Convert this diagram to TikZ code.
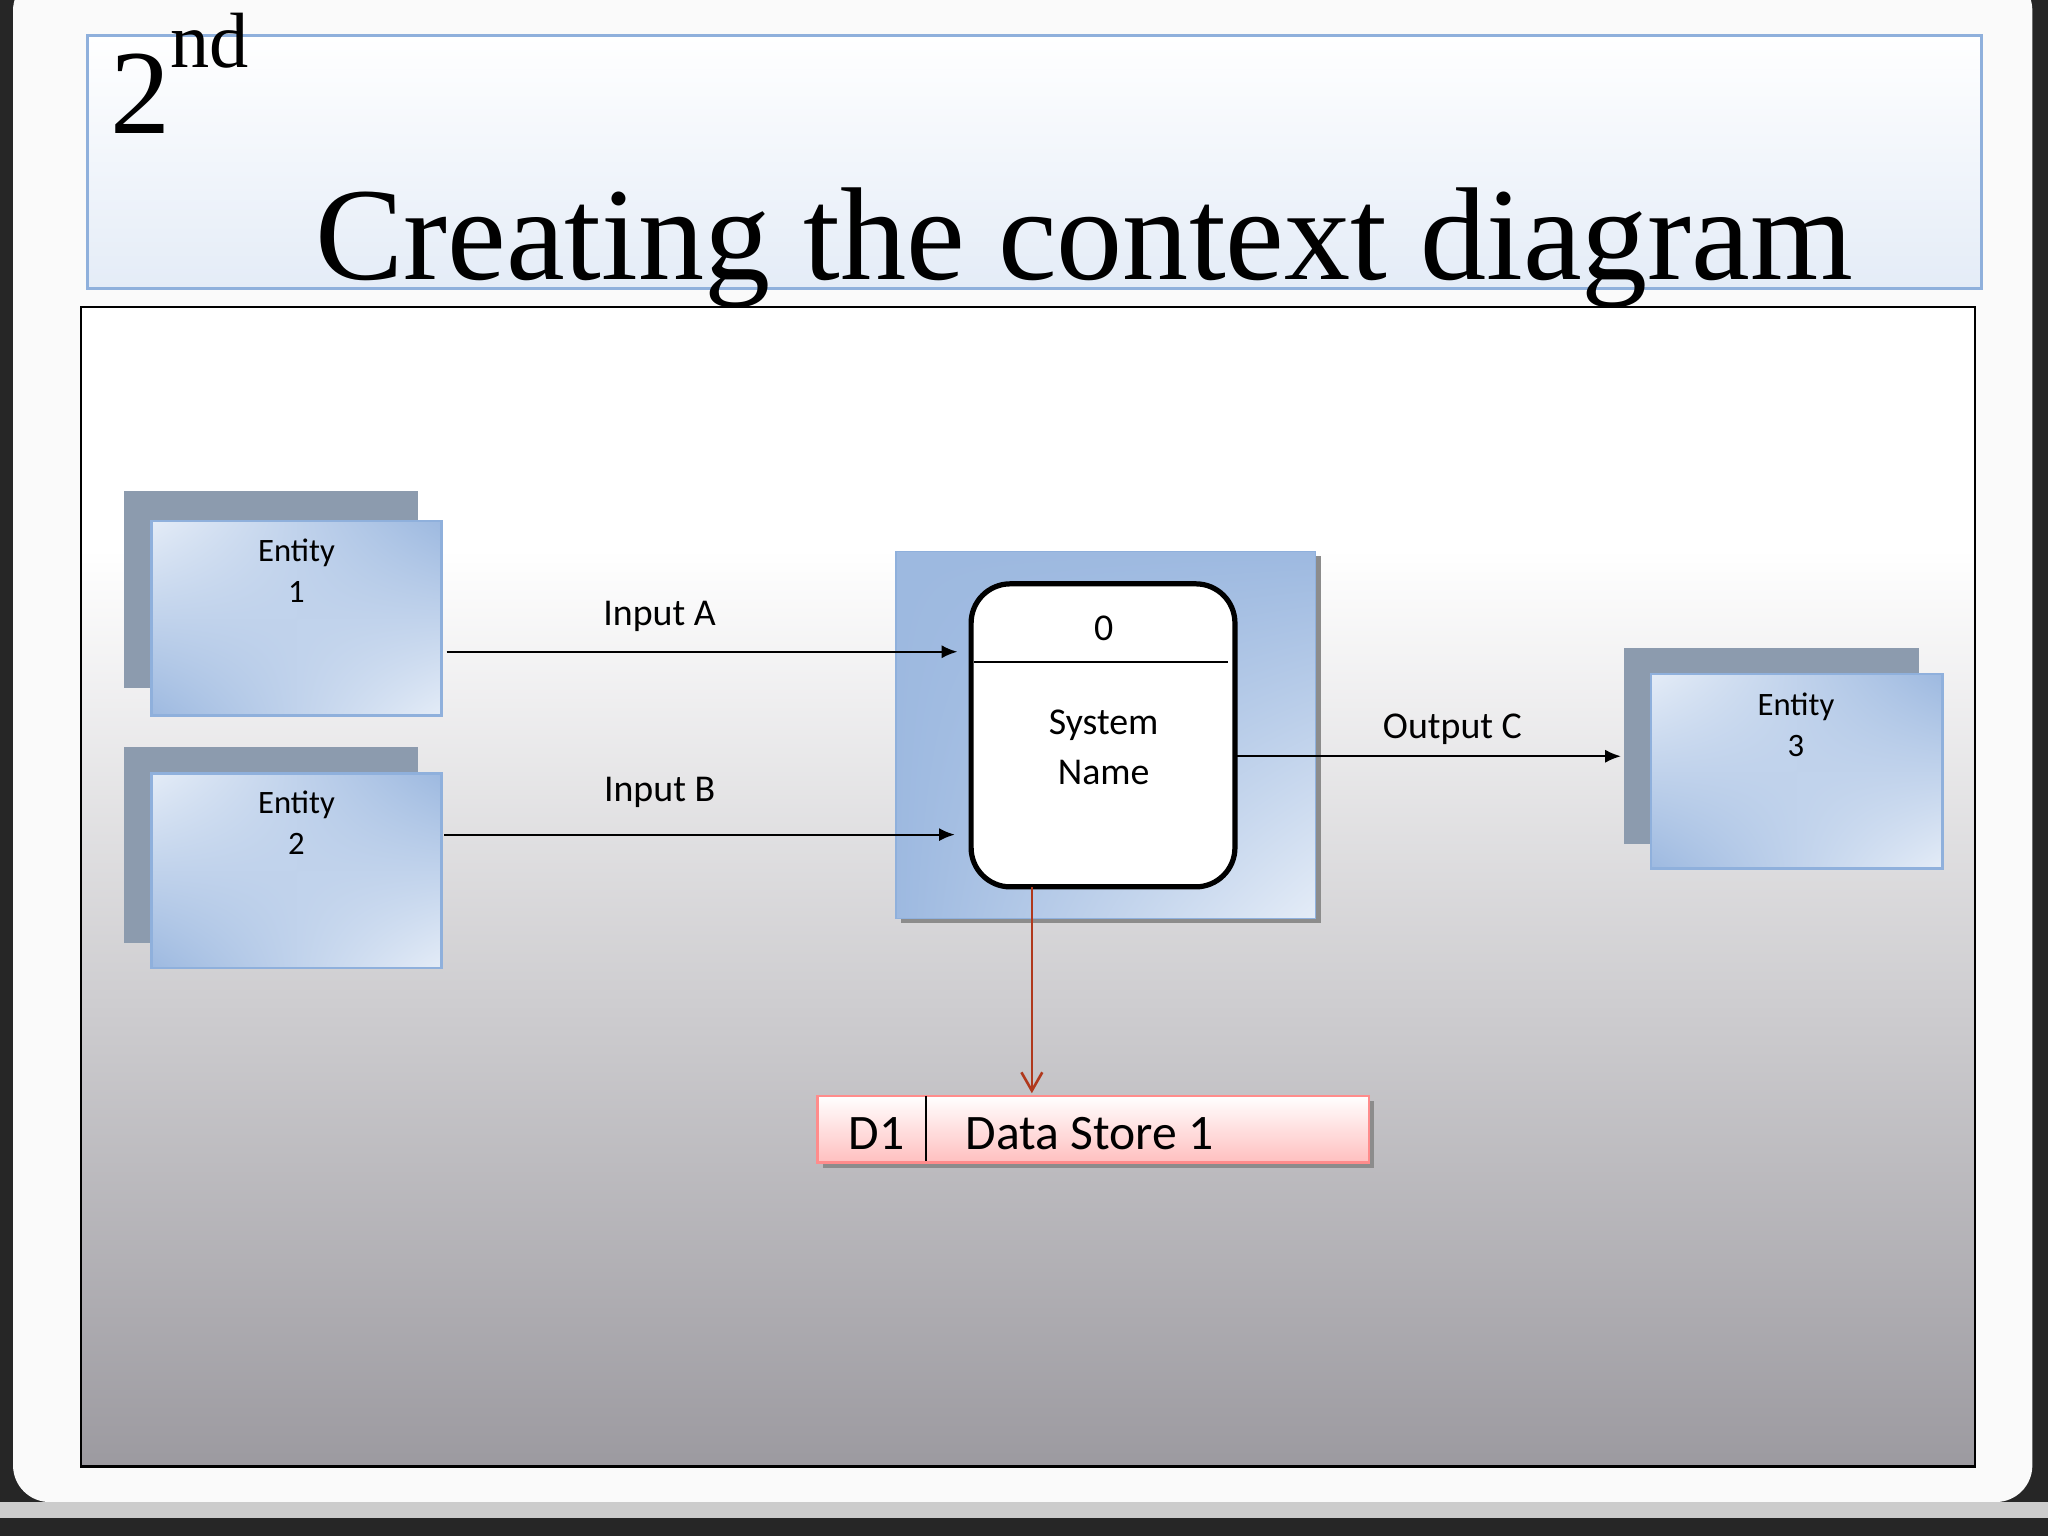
\documentclass[tikz,border=0pt]{standalone}
\usepackage{fontspec}
\setmainfont{Carlito}
\newfontfamily\titlefont{Liberation Serif}
\usetikzlibrary{arrows.meta,shadings}
\definecolor{entb}{HTML}{8FB0DC}
\definecolor{entl}{HTML}{E4ECF7}
\definecolor{entd}{HTML}{9DB9E0}
\definecolor{backg}{HTML}{8C9BAE}
\definecolor{redarr}{HTML}{B0381C}
\definecolor{panelbot}{HTML}{9C9AA0}
\tikzset{
 frontbox/.style={upper left=entl,upper right=entd,lower left=entd,lower right=entl},
 lbl/.style={font=\fontsize{12.5}{15.5}\selectfont,align=center,text=black},
 biglbl/.style={font=\fontsize{14.5}{19}\selectfont,align=center,text=black},
 flow/.style={-{Latex[length=6pt,width=5pt]},line width=0.8pt,black}
}
\begin{document}
\begin{tikzpicture}[x=0.5pt,y=-0.5pt]
\useasboundingbox (0,0) rectangle (1568,1176);
\fill[black!85] (0,0) rectangle (1568,1176);
\fill[white!96!gray,rounded corners=14pt] (10,-20) rectangle (1556,1150);
\fill[gray!40] (0,1150) rectangle (1568,1162);
% title
\shade[top color=white,bottom color=entl] (67,27) rectangle (1517,221);
\draw[entb,line width=1pt] (67,27) rectangle (1517,221);
\node[anchor=base west,inner sep=0,font=\titlefont\fontsize{46}{50}\selectfont] (num) at (84,102) {2\raisebox{0.55em}{\fontsize{30}{30}\selectfont nd}};
\node[anchor=base west,inner sep=0,font=\titlefont\fontsize{50.6}{54}\selectfont] (title) at (241,214) {Creating the context diagram};
% panel
\fill[white] (62,235) rectangle (1512,420);
\shade[top color=white,bottom color=panelbot] (62,420) rectangle (1512,1123);
\draw[black,line width=1pt] (62,235) rectangle (1512,1123);
% entities
\fill[backg] (95,376) rectangle (320,527);
\shade[frontbox] (116,399) rectangle (338,548);
\draw[entb,line width=1pt] (116,399) rectangle (338,548);
\node[lbl] (e1) at (227,437) {Entity\\1};
\fill[backg] (95,572) rectangle (320,722);
\shade[frontbox] (116,592) rectangle (338,741);
\draw[entb,line width=1pt] (116,592) rectangle (338,741);
\node[lbl] (e2) at (227,630) {Entity\\2};
\fill[backg] (1243,496) rectangle (1469,646);
\shade[frontbox] (1264,516) rectangle (1487,665);
\draw[entb,line width=1pt] (1264,516) rectangle (1487,665);
\node[lbl] (e3) at (1375,555) {Entity\\3};
% process
\fill[black!45] (690,426) rectangle (1011,707);
\shade[upper left=entd,upper right=entd,lower left=entd,lower right=entl] (686,422) rectangle (1007,703);
\draw[entb] (686,422) rectangle (1007,703);
\node[draw=black,line width=2pt,fill=white,rounded corners=15pt,minimum width=101pt,minimum height=116pt,inner sep=0] (proc) at (844.5,563) {};
\draw[black,line width=0.8pt] (746,507) -- (940,507);
\node[biglbl] (pid) at (845,481) {0};
\node[biglbl] (pname) at (845,572) {System\\Name};
% coordinates
\coordinate (a1) at (342,499);
\coordinate (a2) at (733,499);
\coordinate (b1) at (340,639);
\coordinate (b2) at (731,639);
\coordinate (c1) at (946,579);
\coordinate (c2) at (1241,579);
\coordinate (d1) at (790,679);
\coordinate (d2) at (790,837);
\draw[flow] (a1) -- (a2);
\draw[flow] (b1) -- (b2);
\draw[flow] (c1) -- (c2);
\node[biglbl] (la) at (505,472) {Input A};
\node[biglbl] (lb) at (505,607) {Input B};
\node[biglbl] (lc) at (1112,558) {Output C};
% data store
\fill[black!45] (630,843) rectangle (1052,894);
\shade[top color=white,bottom color=red!25!white] (626,839) rectangle (1048,890);
\draw[red!45!white,line width=1pt] (626,839) rectangle (1048,890);
\draw[black,line width=1pt] (709,839) -- (709,889);
\node[font=\fontsize{19}{22}\selectfont] (dsid) at (671,868) {D1};
\node[font=\fontsize{19}{22}\selectfont,anchor=west,inner sep=0] (dsname) at (739,868) {Data Store 1};
\draw[-{Straight Barb[length=7pt,width=8pt]},redarr,line width=1pt] (d1) -- (d2);
\end{tikzpicture}
\end{document}
